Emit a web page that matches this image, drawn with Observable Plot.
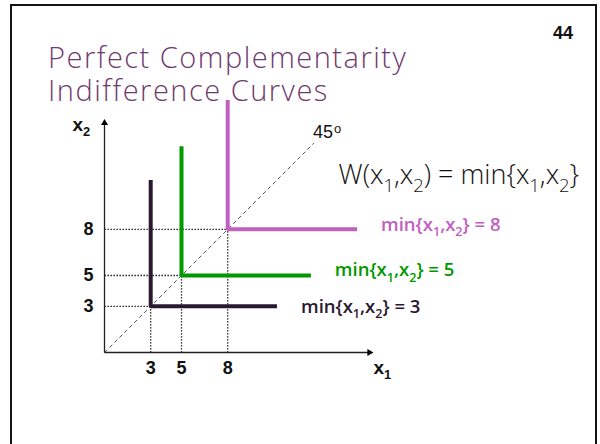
<!DOCTYPE html>
<html><head><meta charset="utf-8">
<script src="https://cdn.jsdelivr.net/npm/d3@7"></script>
<script src="https://cdn.jsdelivr.net/npm/@observablehq/plot@0.6"></script>
<style>
body{margin:0;background:#fff}
#slide{position:relative;width:600px;height:444px;overflow:hidden;background:#fff}
#frame{position:absolute;left:10px;top:4px;width:583px;height:470px;border:2px solid #141414;border-bottom:none}
.title{position:absolute;left:48px;font-family:"Open Sans",Lato,sans-serif;font-weight:300;font-size:29px;line-height:32px;height:32px;color:#6f3b6e;white-space:nowrap;letter-spacing:1.5px}
#t1{top:41px}
#t2{top:74px}
#page{position:absolute;left:553px;top:23px;font-family:"Liberation Sans",Arial,sans-serif;font-weight:bold;font-size:18px;color:#111}
#chart{position:absolute;left:0;top:0}
</style></head><body>
<div id="slide">
<div id="frame"></div>
<div class="title" id="t1">Perfect Complementarity</div>
<div class="title" id="t2">Indifference Curves</div>
<div id="page">44</div>
<div id="chart"></div>
</div>
<script>
// ---- data ----
const levels = [3, 5, 8];
const armEnds = [11.2, 13.4, 16.4];
const curveLabels = ["min{x₁,x₂} = 3", "min{x₁,x₂} = 5", "min{x₁,x₂} = 8"];
const tickValues = [3, 5, 8];
const diagonalEnd = 13.6;
const xAxisEnd = 17.2;
const yAxisEnd = 14.9;
const xLabel = "x₁";
const yLabel = "x₂";
const formula = "W(x₁,x₂) = min{x₁,x₂}";
const angleLabel = "45";
const angleMark = "o";

// ---- styles ----
const colors = ["#2a1830", "#009900", "#c060c0"];
const labelDy = [1, -5, -4];
const boldFont = "'Liberation Sans', Arial, sans-serif";
const labelFont = "'Open Sans', sans-serif";

const curvePts = levels.flatMap((l, i) => [
  {x: l, y: armEnds[i], l},
  {x: l, y: l, l},
  {x: armEnds[i], y: l, l}
]);

const marks = [
  // dotted guides
  Plot.link(levels, {x1: 0, y1: d => d, x2: d => d, y2: d => d, stroke: "#000", strokeWidth: 1.3, strokeDasharray: "1.3,1.7"}),
  Plot.link(levels, {x1: d => d, y1: 0, x2: d => d, y2: d => d, stroke: "#000", strokeWidth: 1.3, strokeDasharray: "1.3,1.7"}),
  // 45 degree line
  Plot.link([diagonalEnd], {x1: 0, y1: 0, x2: d => d, y2: d => d, stroke: "#555", strokeWidth: 1, strokeDasharray: "4,3"}),
  // axes
  Plot.link([xAxisEnd], {x1: 0, y1: 0, x2: d => d, y2: 0, stroke: "#222", strokeWidth: 1.3}),
  Plot.link([yAxisEnd], {x1: 0, y1: 0, x2: 0, y2: d => d, stroke: "#222", strokeWidth: 1.3}),
  Plot.dot([xAxisEnd], {x: d => d, y: 0, symbol: "triangle", rotate: 90, r: 2.6, fill: "#000", stroke: null}),
  Plot.dot([yAxisEnd], {x: 0, y: d => d, symbol: "triangle", r: 2.6, fill: "#000", stroke: null}),
  // curves
  Plot.line(curvePts, {x: "x", y: "y", z: "l", stroke: "l", strokeWidth: 4, strokeLinejoin: "miter", strokeLinecap: "butt"}),
  // tick labels
  Plot.text(tickValues, {x: d => d, y: 0, dy: 16, text: d => `${d}`, fontSize: 18, fontWeight: "bold", fontFamily: boldFont, fill: "#111"}),
  Plot.text(tickValues, {x: 0, y: d => d, dx: -16, text: d => `${d}`, fontSize: 18, fontWeight: "bold", fontFamily: boldFont, fill: "#111"}),
  // axis labels
  Plot.text([xLabel], {x: xAxisEnd, y: 0, dx: 4, dy: 15, text: d => d, textAnchor: "start", fontSize: 19, fontWeight: "bold", fontFamily: boldFont, fill: "#111"}),
  Plot.text([yLabel], {x: 0, y: yAxisEnd, dx: -32, dy: 2, text: d => d, textAnchor: "start", fontSize: 19, fontWeight: "bold", fontFamily: boldFont, fill: "#111"}),
  // 45 label
  Plot.text([angleLabel], {x: diagonalEnd, y: diagonalEnd, dx: -1, dy: -11, text: d => d, textAnchor: "start", fontSize: 18, fontFamily: boldFont, fill: "#111"}),
  Plot.text([angleMark], {x: diagonalEnd, y: diagonalEnd, dx: 20, dy: -14, text: d => d, textAnchor: "start", fontSize: 13, fontFamily: boldFont, fill: "#111"}),
  // formula
  Plot.text([formula], {x: 15.2, y: 11.5, text: d => d, textAnchor: "start", fontSize: 27, fontWeight: 300, fontFamily: labelFont, fill: "#111"}),
  // curve labels
  ...levels.map((l, i) => Plot.text([curveLabels[i]], {x: armEnds[i], y: l, dx: 24, dy: labelDy[i], text: d => d, textAnchor: "start", fontSize: 18.5, fontWeight: 600, fontFamily: labelFont, fill: colors[i], letterSpacing: "0.6px"}))
];

const plot = Plot.plot({
  width: 600,
  height: 444,
  margin: 0,
  style: {background: "transparent", overflow: "visible"},
  x: {domain: [0, 20], range: [104, 412], axis: null},
  y: {domain: [0, 20], range: [352, 44], axis: null},
  color: {type: "ordinal", domain: levels, range: colors},
  marks
});
document.getElementById("chart").appendChild(plot);

// turn unicode subscripts into real lowered tspans
const NS = "http://www.w3.org/2000/svg";
plot.querySelectorAll("text").forEach(t => {
  const leaves = t.querySelectorAll("tspan").length ? [...t.querySelectorAll("tspan")] : [t];
  leaves.forEach(n => {
    const s = n.textContent;
    if (!/[₁₂]/.test(s)) return;
    const fs = parseFloat(getComputedStyle(n).fontSize) || 16;
    const shift = fs * 0.28;
    n.textContent = "";
    let lowered = false;
    s.split(/([₁₂])/).forEach(p => {
      if (!p) return;
      const ts = document.createElementNS(NS, "tspan");
      if (p === "₁" || p === "₂") {
        ts.textContent = p === "₁" ? "1" : "2";
        ts.setAttribute("font-size", (fs * 0.68).toFixed(1));
        ts.setAttribute("dy", (lowered ? 0 : shift).toFixed(1));
        lowered = true;
      } else {
        ts.textContent = p;
        if (lowered) { ts.setAttribute("dy", (-shift).toFixed(1)); lowered = false; }
      }
      n.appendChild(ts);
    });
  });
});
</script>
</body></html>
